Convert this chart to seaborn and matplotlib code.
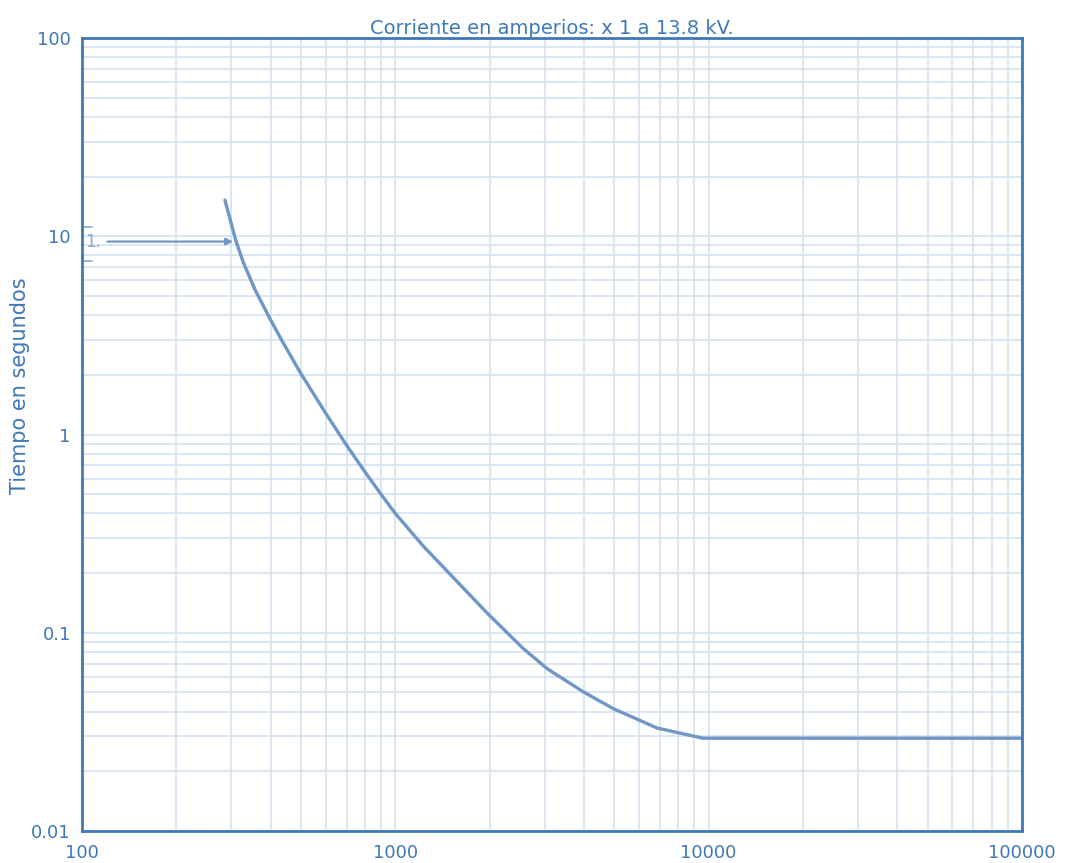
import matplotlib
matplotlib.use('Agg')
import matplotlib.pyplot as plt
import matplotlib.ticker as mticker
import pandas as pd
import seaborn as sns

# Curva tiempo-corriente
corriente = [286, 310, 327, 357, 398, 435, 496, 596, 700, 800, 900, 1000, 1225, 1462,
             1962, 2556, 3050, 3972, 4953, 6843, 9594, 100000]
tiempo = [15.2, 9.47, 7.41, 5.36, 3.84, 2.97, 2.07, 1.3, 0.88, 0.648, 0.5, 0.4, 0.275,
          0.205, 0.126, 0.0835, 0.066, 0.0505, 0.0415, 0.0331, 0.0294, 0.0294]
x_ticks = [100, 1000, 10000, 100000]
x_labels = ['100', '1000', '10000', '100000']
y_ticks = [0.01, 0.1, 1, 10, 100]
y_labels = ['0.01', '0.1', '1', '10', '100']
marca_x = 310
marca_t = 9.4
marca_label = '1.'

df = pd.DataFrame({'corriente': corriente, 'tiempo': tiempo})

sns.set_style('white')
plt.rcParams['font.family'] = ['DejaVu Sans']

azul = '#3f78b8'
curva = '#6f96c6'
rejilla = '#d3e1f0'

fig = plt.figure(figsize=(10.73, 8.63), dpi=100)
ax = fig.add_axes([0.0764, 0.037, 0.876, 0.919])

sns.lineplot(data=df, x='corriente', y='tiempo', ax=ax, color=curva, linewidth=2.4)

ax.set_xscale('log')
ax.set_yscale('log')
ax.set_xlim(100, 100000)
ax.set_ylim(0.01, 100)

ax.xaxis.set_major_locator(mticker.FixedLocator(x_ticks))
ax.xaxis.set_minor_locator(mticker.LogLocator(base=10, subs=range(2, 10)))
ax.yaxis.set_major_locator(mticker.FixedLocator(y_ticks))
ax.yaxis.set_minor_locator(mticker.LogLocator(base=10, subs=range(2, 10)))
ax.set_xticklabels(x_labels)
ax.set_yticklabels(y_labels)
ax.xaxis.set_minor_formatter(mticker.NullFormatter())
ax.yaxis.set_minor_formatter(mticker.NullFormatter())

ax.grid(True, which='both', color=rejilla, linewidth=1.2)
ax.set_axisbelow(True)
ax.tick_params(which='both', length=0, colors=azul, labelsize=13)
ax.tick_params(axis='x', pad=9)
ax.tick_params(axis='y', pad=8)
for s in ax.spines.values():
    s.set_color(azul)
    s.set_linewidth(2)

ax.set_xlabel('')
ax.set_ylabel('Tiempo en segundos', color=azul, fontsize=15)
ax.yaxis.set_label_coords(-0.055, 0.562)
ax.set_title('Corriente en amperios: x 1 a 13.8 kV.', color=azul, fontsize=14, pad=3)

# marca "1." con flecha hacia la curva
ax.annotate('', xy=(marca_x, marca_t), xytext=(118, marca_t),
            arrowprops=dict(arrowstyle='-|>', color=curva, lw=1.6, mutation_scale=10))
ax.text(102, marca_t, marca_label, color='#8aa9cf', fontsize=12, va='center', ha='left')
ax.plot([100, 108], [marca_t * 1.18, marca_t * 1.18], color='#8aa9cf', lw=1.2)
ax.plot([100, 108], [marca_t * 0.8, marca_t * 0.8], color='#8aa9cf', lw=1.2)

fig.savefig('out.png', dpi=100)
